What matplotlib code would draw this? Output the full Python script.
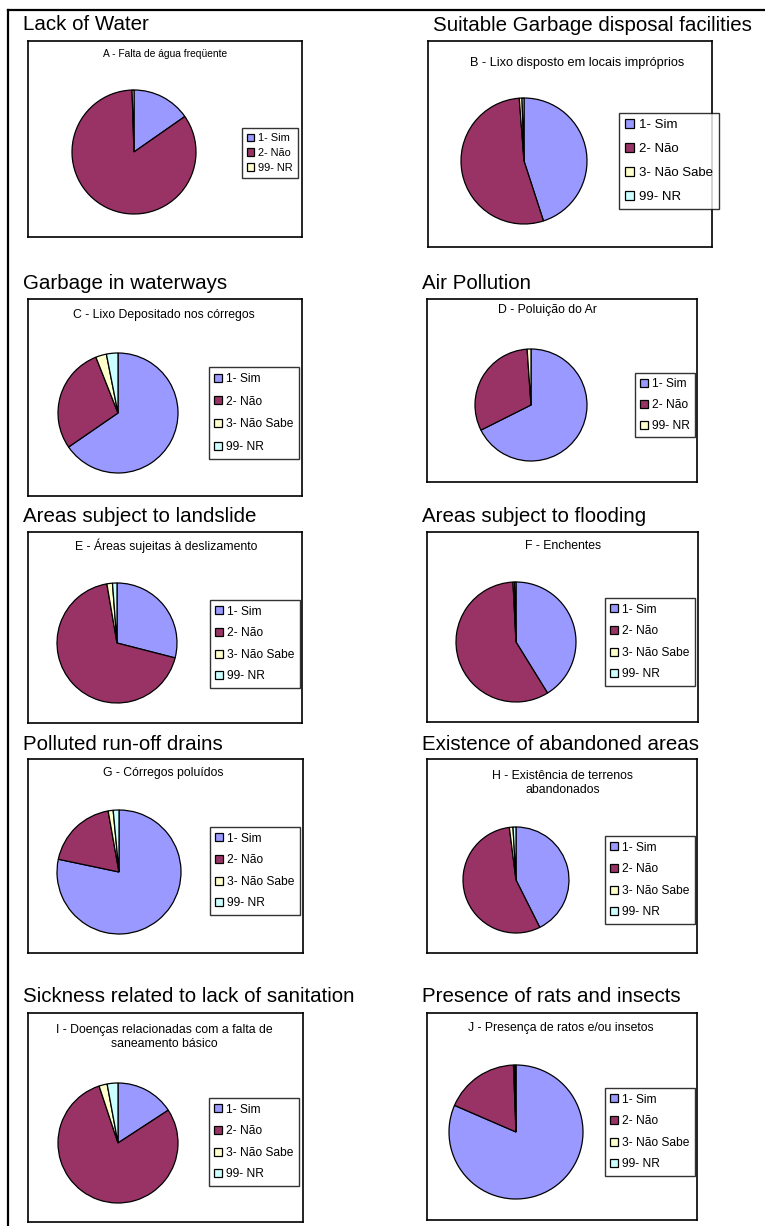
import matplotlib
matplotlib.use("Agg")
import matplotlib.pyplot as plt
from matplotlib.lines import Line2D

plt.rcParams['font.family'] = ['Liberation Sans', 'DejaVu Sans']

# canvas size in pixels
W, H = 765, 1226

panel_titles = [
    "Lack of Water",
    "Suitable Garbage disposal facilities",
    "Garbage in waterways",
    "Air Pollution",
    "Areas subject to landslide",
    "Areas subject to flooding",
    "Polluted run-off drains",
    "Existence of abandoned areas",
    "Sickness related to lack of sanitation",
    "Presence of rats and insects",
]

chart_titles = [
    "A - Falta de água freqüente",
    "B - Lixo disposto em locais impróprios",
    "C - Lixo Depositado nos córregos",
    "D - Poluição do Ar",
    "E - Áreas sujeitas à deslizamento",
    "F - Enchentes",
    "G - Córregos poluídos",
    "H - Existência de terrenos\nabandonados",
    "I - Doenças relacionadas com a falta de\nsaneamento básico",
    "J - Presença de ratos e/ou insetos",
]

labels_3 = ["1- Sim", "2- Não", "99- NR"]
labels_4 = ["1- Sim", "2- Não", "3- Não Sabe", "99- NR"]

# shares in percent: Sim, Não, (Não Sabe), NR
values_a = [15.3, 84.2, 0.5]
values_b = [45.0, 53.8, 0.7, 0.5]
values_c = [65.4, 28.6, 2.9, 3.1]
values_d = [67.6, 31.3, 1.1]
values_e = [29.0, 68.3, 1.5, 1.2]
values_f = [41.2, 58.0, 0.4, 0.4]
values_g = [78.3, 18.9, 1.3, 1.5]
values_h = [42.6, 55.4, 1.1, 0.9]
values_i = [15.8, 79.1, 2.2, 2.9]
values_j = [81.5, 17.9, 0.3, 0.3]

all_values = [values_a, values_b, values_c, values_d, values_e,
              values_f, values_g, values_h, values_i, values_j]
all_labels = [labels_3, labels_4, labels_4, labels_3, labels_4,
              labels_4, labels_4, labels_4, labels_4, labels_4]

colors = ["#9999FF", "#993366", "#FFFFCC", "#CCFFFF"]

# layout in pixels (from top-left)
# heading (x, baseline), box (l, t, r, b), chart title centre, pie (cx, cy, r),
# legend centre, legend font px, legend row spacing
layout = [
    dict(head=(23, 30), box=(28, 41, 302, 237), title=(165, 54), tfs=10.3,
         pie=(134, 152, 62), leg=(270, 153), lfs=11.0, lsp=0.45),
    dict(head=(433, 31), box=(428, 41, 712, 247), title=(577, 63), tfs=12.8,
         pie=(524, 161, 63), leg=(669, 161), lfs=13.2, lsp=0.9),
    dict(head=(23, 289), box=(28, 299, 302, 496), title=(164, 315), tfs=12.3,
         pie=(118, 413, 60), leg=(254, 413), lfs=12.0, lsp=0.9),
    dict(head=(422, 289), box=(427, 299, 697, 482), title=(547, 310), tfs=12.3,
         pie=(531, 405, 56), leg=(665, 405), lfs=12.0, lsp=0.75),
    dict(head=(23, 522), box=(28, 532, 302, 723), title=(166, 546), tfs=12.3,
         pie=(117, 643, 60), leg=(255, 644), lfs=12.0, lsp=0.8),
    dict(head=(422, 522), box=(427, 532, 698, 722), title=(563, 546), tfs=12.3,
         pie=(516, 642, 60), leg=(650, 642), lfs=12.0, lsp=0.8),
    dict(head=(23, 750), box=(28, 759, 303, 953), title=(163, 773), tfs=12.3,
         pie=(119, 872, 62), leg=(255, 871), lfs=12.0, lsp=0.8),
    dict(head=(422, 750), box=(427, 759, 697, 953), title=(563, 783), tfs=12.3,
         pie=(516, 880, 53), leg=(650, 880), lfs=12.0, lsp=0.8),
    dict(head=(23, 1002), box=(28, 1013, 303, 1222), title=(164, 1037), tfs=12.3,
         pie=(118, 1143, 60), leg=(254, 1142), lfs=12.0, lsp=0.8),
    dict(head=(422, 1002), box=(427, 1013, 697, 1220), title=(561, 1028), tfs=12.3,
         pie=(516, 1132, 67), leg=(650, 1132), lfs=12.0, lsp=0.8),
]

PT = 72 / 100  # px -> pt at dpi 100


def fx(x):
    return x / W


def fy(y):
    return 1 - y / H


fig = plt.figure(figsize=(W / 100, H / 100), dpi=100)
fig.patch.set_facecolor("white")

# outer frame: top and left rules
fig.add_artist(Line2D([fx(8), 1.0], [fy(10), fy(10)], color="black", lw=1.6))
fig.add_artist(Line2D([fx(8), fx(8)], [fy(10), 0.0], color="black", lw=1.6))

for heading, title, vals, labs, lay in zip(panel_titles, chart_titles,
                                          all_values, all_labels, layout):
    hx, hy = lay["head"]
    fig.text(fx(hx), fy(hy), heading, fontsize=20.5 * PT, va="baseline", ha="left")

    l, t, r, b = lay["box"]
    box = fig.add_axes([fx(l), fy(b), (r - l) / W, (b - t) / H])
    box.set_xticks([])
    box.set_yticks([])
    for s in box.spines.values():
        s.set_linewidth(1.2)
        s.set_color("black")

    tx, ty = lay["title"]
    fig.text(fx(tx), fy(ty), title, fontsize=lay["tfs"] * PT,
             ha="center", va="center", linespacing=1.15)

    cx, cy, rad = lay["pie"]
    ext = rad * 1.1
    pax = fig.add_axes([fx(cx - ext), fy(cy + ext), 2 * ext / W, 2 * ext / H])
    wedges, _ = pax.pie(vals, colors=colors[:len(vals)], startangle=90,
                        counterclock=False, radius=1,
                        wedgeprops=dict(edgecolor="black", linewidth=0.9))
    pax.set_xlim(-1.1, 1.1)
    pax.set_ylim(-1.1, 1.1)
    pax.axis("off")

    lx, ly = lay["leg"]
    leg = box.legend(wedges, labs, loc="center",
                     bbox_to_anchor=(fx(lx), fy(ly)),
                     bbox_transform=fig.transFigure,
                     fontsize=lay["lfs"] * PT, frameon=True, fancybox=False,
                     handlelength=0.65, handleheight=0.65, handletextpad=0.35,
                     labelspacing=lay["lsp"], borderpad=0.45, borderaxespad=0)
    leg.get_frame().set_edgecolor("black")
    leg.get_frame().set_linewidth(1.0)

fig.savefig("out.png", dpi=100, facecolor="white")
